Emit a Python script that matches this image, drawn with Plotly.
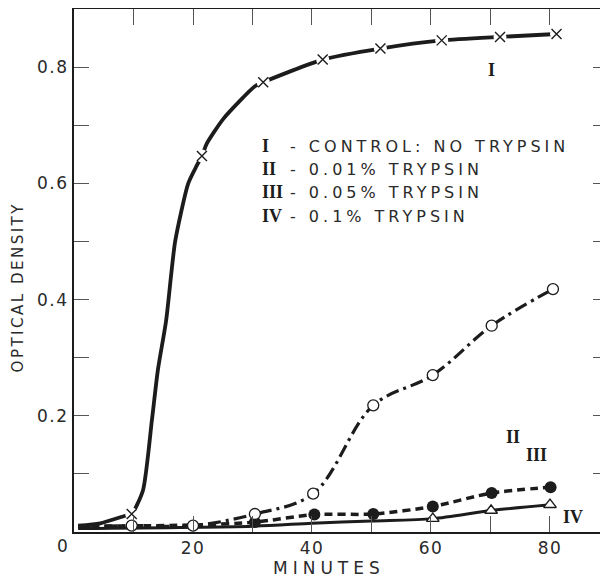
import plotly.graph_objects as go

# ---------------- data ----------------
# Curve I : control, no trypsin (x markers)
t_I = [9.7, 21.5, 31.8, 41.8, 51.5, 61.8, 71.6, 81.1]
od_I = [0.031, 0.647, 0.774, 0.813, 0.832, 0.846, 0.852, 0.857]
# path of the hand-drawn curve I
t_I_path = [0.7, 4.4, 8.6, 9.7, 11.6, 13.1, 14.1, 15.5, 17.0, 19.2, 20.6, 21.5,
            22.3, 25.1, 30.4, 31.8, 41.8, 51.5, 61.8, 71.6, 81.1]
od_I_path = [0.011, 0.015, 0.028, 0.031, 0.072, 0.193, 0.279, 0.365, 0.500, 0.600,
             0.630, 0.647, 0.668, 0.711, 0.767, 0.774, 0.813, 0.832, 0.846, 0.852, 0.857]

# Curve II : 0.01 % trypsin (open circles)
t_II = [9.7, 20.0, 30.4, 40.2, 50.3, 60.3, 70.2, 80.5]
od_II = [0.011, 0.011, 0.031, 0.066, 0.218, 0.270, 0.355, 0.418]
t_II_path = [0.7, 9.7, 20.0, 30.4, 40.2, 50.3, 60.3, 70.2, 80.5]
od_II_path = [0.008, 0.011, 0.011, 0.031, 0.066, 0.218, 0.270, 0.355, 0.418]

# Curve III : 0.05 % trypsin (filled circles)
t_III = [30.4, 40.4, 50.3, 60.3, 70.2, 80.1]
od_III = [0.017, 0.030, 0.031, 0.044, 0.067, 0.077]
t_III_path = [0.7, 20.0, 30.4, 40.4, 50.3, 60.3, 70.2, 80.1]
od_III_path = [0.010, 0.012, 0.017, 0.030, 0.031, 0.044, 0.067, 0.077]

# Curve IV : 0.1 % trypsin (open triangles)
t_IV = [60.3, 70.1, 80.0]
od_IV = [0.023, 0.037, 0.047]
t_IV_path = [0.7, 30.0, 40.0, 50.0, 60.3, 70.1, 80.0]
od_IV_path = [0.006, 0.010, 0.015, 0.019, 0.023, 0.037, 0.047]

x_ticks = [10, 20, 30, 40, 50, 60, 70, 80]
x_ticktext = ["", "20", "", "40", "", "60", "", "80"]
y_ticks = [0.1, 0.2, 0.3, 0.4, 0.5, 0.6, 0.7, 0.8]
y_ticktext = ["", "0.2", "", "0.4", "", "0.6", "", "0.8"]

legend_numerals = ["I", "II", "III", "IV"]
legend_texts = ["- CONTROL: NO TRYPSIN", "- 0.01% TRYPSIN", "- 0.05% TRYPSIN", "- 0.1% TRYPSIN"]
legend_od = [0.664, 0.624, 0.585, 0.543]

curve_labels = ["I", "II", "III", "IV"]
curve_label_t = [70.1, 73.8, 77.8, 83.9]
curve_label_od = [0.795, 0.163, 0.132, 0.025]

x_title = "MINUTES"
y_title = "OPTICAL DENSITY"

# ---------------- figure ----------------
INK = "#1c1c1c"
TXT = "#2a2a2a"
SANS = "DejaVu Sans"
SERIF = "Liberation Serif"


def spaced(s, px):
    return '<span style="letter-spacing:%spx">%s</span>' % (px, s)


fig = go.Figure()

fig.add_trace(go.Scatter(x=t_IV_path, y=od_IV_path, mode="lines",
                         line=dict(color=INK, width=3, shape="spline", smoothing=0.8)))
fig.add_trace(go.Scatter(x=t_III_path, y=od_III_path, mode="lines",
                         line=dict(color=INK, width=3.5, dash="8px,5px", shape="spline", smoothing=0.8)))
fig.add_trace(go.Scatter(x=t_II_path, y=od_II_path, mode="lines",
                         line=dict(color=INK, width=3.2, dash="13px,5px,3px,5px", shape="spline", smoothing=1.0)))
fig.add_trace(go.Scatter(x=t_I_path, y=od_I_path, mode="lines",
                         line=dict(color=INK, width=3.8, shape="spline", smoothing=0.6)))

# white gaps around the x markers of curve I
fig.add_trace(go.Scatter(x=t_I, y=od_I, mode="markers",
                         marker=dict(symbol="circle", size=13, color="white", line=dict(width=0))))

fig.add_trace(go.Scatter(x=t_IV, y=od_IV, mode="markers",
                         marker=dict(symbol="triangle-up", size=11, color="white",
                                     line=dict(color=INK, width=1.4))))
fig.add_trace(go.Scatter(x=t_III, y=od_III, mode="markers",
                         marker=dict(symbol="circle", size=12, color=INK, line=dict(width=0))))
fig.add_trace(go.Scatter(x=t_II, y=od_II, mode="markers",
                         marker=dict(symbol="circle", size=11, color="white",
                                     line=dict(color=INK, width=1.3))))
fig.add_trace(go.Scatter(x=t_I, y=od_I, mode="markers",
                         marker=dict(symbol="x-thin", size=10, color=INK,
                                     line=dict(color=INK, width=1.4))))

# helper trace so the right-hand tick axis is drawn
fig.add_trace(go.Scatter(x=[None], y=[None], yaxis="y2", mode="markers"))

annotations = []
for name, t, od in zip(curve_labels, curve_label_t, curve_label_od):
    annotations.append(dict(x=t, y=od, xref="x", yref="y", text=name, showarrow=False,
                            xanchor="center", yanchor="middle",
                            font=dict(family=SERIF, size=18, color=INK, weight="bold")))
for num, txt, od in zip(legend_numerals, legend_texts, legend_od):
    annotations.append(dict(x=31.3, y=od, xref="x", yref="y", text=num, showarrow=False,
                            xanchor="left", yanchor="middle",
                            font=dict(family=SERIF, size=18, color=INK, weight="bold")))
    annotations.append(dict(x=36.0, y=od, xref="x", yref="y", text=spaced(txt, 4), showarrow=False,
                            xanchor="left", yanchor="middle",
                            font=dict(family=SANS, size=16, color=TXT)))

# plot area in page pixels: x 74..608, y 9..532 (page adds an 8px body margin)
annotations.append(dict(x=(62 - 74) / 534, y=(532 - 546) / 523, xref="paper", yref="paper", text="0",
                        showarrow=False, xanchor="center", yanchor="middle",
                        font=dict(family=SANS, size=17, color=TXT)))
annotations.append(dict(x=(329 - 74) / 534, y=(532 - 568) / 523, xref="paper", yref="paper",
                        text=spaced(x_title, 5), showarrow=False, xanchor="center", yanchor="middle",
                        font=dict(family=SANS, size=17, color=TXT)))
annotations.append(dict(x=(18.4 - 74) / 534, y=(532 - 287) / 523, xref="paper", yref="paper",
                        text=spaced(y_title, 2.5), textangle=-90, showarrow=False,
                        xanchor="center", yanchor="middle",
                        font=dict(family=SANS, size=15, color=TXT)))

fig.update_layout(
    width=600, height=570,
    margin=dict(l=66, r=0, t=1, b=46),
    plot_bgcolor="white", paper_bgcolor="white",
    showlegend=False,
    annotations=annotations,
    xaxis=dict(range=[0, 89.75], tickvals=x_ticks, ticktext=[spaced(s, 1.5) for s in x_ticktext],
               ticks="inside", ticklen=16, tickwidth=1.2, tickcolor="#555",
               showline=True, linecolor=INK, linewidth=2, mirror="ticks",
               showgrid=False, zeroline=False,
               tickfont=dict(family=SANS, size=17, color=TXT)),
    yaxis=dict(range=[0, 0.9], tickvals=y_ticks, ticktext=[spaced(s, 1.5) for s in y_ticktext],
               ticks="inside", ticklen=15, tickwidth=1.2, tickcolor="#555",
               showline=True, linecolor=INK, linewidth=2, mirror=False,
               showgrid=False, zeroline=False,
               tickfont=dict(family=SANS, size=17, color=TXT)),
    yaxis2=dict(overlaying="y", side="right", range=[0, 0.9], tickvals=y_ticks,
                showticklabels=False, ticks="inside", ticklen=15, tickwidth=1.2,
                tickcolor="#555", showline=False, showgrid=False, zeroline=False),
)

fig.write_html("out.html")
